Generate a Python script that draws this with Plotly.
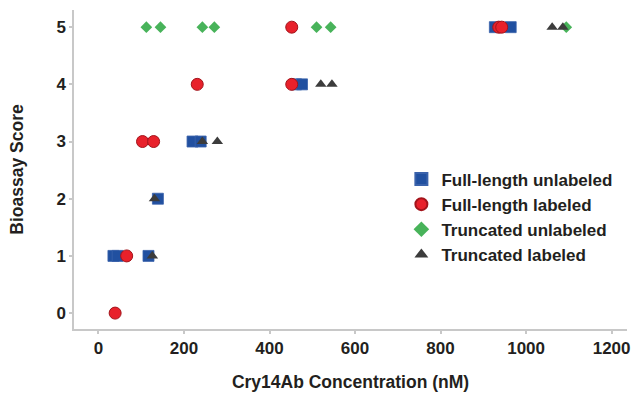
import plotly.graph_objects as go

# Full-length unlabeled (blue squares)
fl_unlab_x = [35, 45, 139, 117, 220, 239, 462, 476, 927, 964]
fl_unlab_y = [1, 1, 2, 1, 3, 3, 4, 4, 5, 5]
# Full-length labeled (red circles)
fl_lab_x = [39, 66, 103, 129, 231, 452, 452, 936, 943]
fl_lab_y = [0, 1, 3, 3, 4, 4, 5, 5, 5]
# Truncated unlabeled (green diamonds)
tr_unlab_x = [112, 145, 243, 271, 510, 543, 1094]
tr_unlab_y = [5, 5, 5, 5, 5, 5, 5]
# Truncated labeled (dark triangles)
tr_lab_x = [126, 131, 243, 278, 520, 546, 1061, 1086]
tr_lab_y = [1, 2, 3, 3, 4, 4, 5, 5]

x_ticks = [0, 200, 400, 600, 800, 1000, 1200]
y_ticks = [0, 1, 2, 3, 4, 5]

FONT = "Liberation Sans, Arial, sans-serif"
TXT = "#231f20"

fig = go.Figure()
fig.add_trace(go.Scatter(x=fl_unlab_x, y=fl_unlab_y, mode="markers", name="<b>Full-length unlabeled</b>",
                         marker=dict(symbol="square", size=11, color="#2150a0",
                                     line=dict(color="#3a62ab", width=0.8))))
fig.add_trace(go.Scatter(x=fl_lab_x, y=fl_lab_y, mode="markers", name="<b>Full-length labeled</b>",
                         marker=dict(symbol="circle", size=12, color="#e8212b",
                                     line=dict(color="#a3141b", width=1))))
fig.add_trace(go.Scatter(x=tr_unlab_x, y=tr_unlab_y, mode="markers", name="<b>Truncated unlabeled</b>",
                         marker=dict(symbol="diamond", size=9, color="#48b35a",
                                     line=dict(color="#48b35a", width=0))))
fig.add_trace(go.Scatter(x=tr_lab_x, y=tr_lab_y, mode="markers", name="<b>Truncated labeled</b>",
                         marker=dict(symbol="triangle-up", size=10, color="#3c3c3c",
                                     line=dict(color="#3c3c3c", width=0))))

axis_font = dict(family=FONT, size=17.5, color=TXT)
tick_font = dict(family=FONT, size=17, color=TXT)
fig.update_layout(
    width=636, height=395,
    margin=dict(l=74, r=6, t=10, b=64),
    plot_bgcolor="white", paper_bgcolor="white",
    font=dict(family=FONT, color=TXT),
    xaxis=dict(range=[-57.2, 1236], tickvals=x_ticks, ticktext=["<b>%d</b>" % v for v in x_ticks],
               showgrid=False, zeroline=False, showline=True, linecolor="#c8c8c8", linewidth=1.5,
               ticks="outside", ticklen=3, tickcolor="#c8c8c8", tickwidth=1.5,
               tickfont=tick_font,
               title=dict(text="<b>Cry14Ab Concentration (nM)</b>", font=axis_font, standoff=19)),
    yaxis=dict(range=[-0.278, 5.30], tickvals=y_ticks, ticktext=["<b>%d</b>" % v for v in y_ticks],
               showgrid=False, zeroline=False, showline=True, linecolor="#c8c8c8", linewidth=1.5,
               ticks="outside", ticklen=3, tickcolor="#c8c8c8", tickwidth=1.5,
               tickfont=tick_font,
               title=dict(text="<b>Bioassay Score</b>", font=axis_font, standoff=28)),
    legend=dict(x=0.592, y=0.525, xanchor="left", yanchor="top", bgcolor="rgba(0,0,0,0)",
                font=dict(size=17, color=TXT, family=FONT),
                tracegroupgap=0, itemsizing="constant"),
    showlegend=True,
)

fig.write_html("out.html", config={"displayModeBar": False},
               post_script="document.body.style.margin='0px';")
